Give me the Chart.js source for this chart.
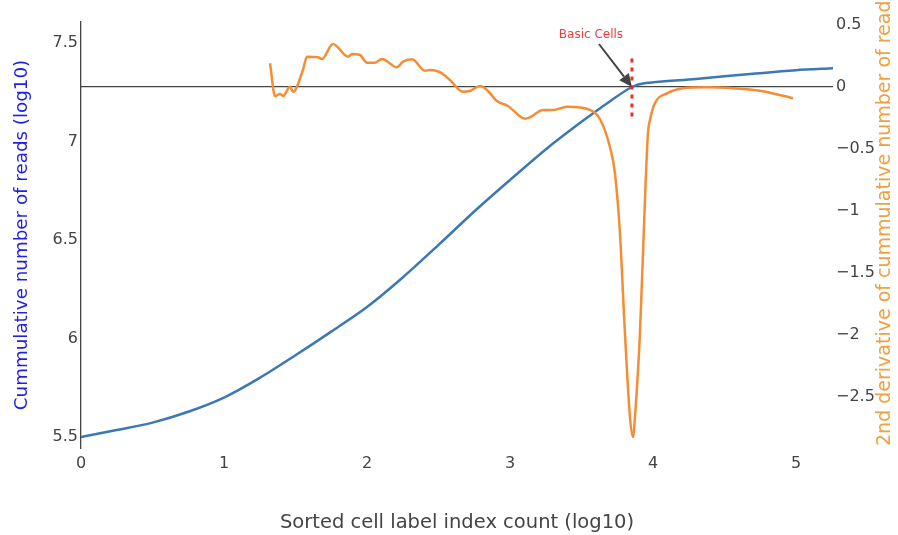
<!DOCTYPE html>
<html>
<head>
<meta charset="utf-8">
<script src="https://cdn.jsdelivr.net/npm/chart.js@4.4.1/dist/chart.umd.min.js"></script>
<style>
    html, body { margin: 0; padding: 0; background: #fff; }
</style>
</head>
<body>
<canvas id="chart" width="898" height="535"></canvas>
<script>
// Cumulative reads (log10) against sorted cell index (log10)
const cumX = [0, 0.25, 0.5, 0.75, 1.0, 1.25, 1.5, 1.75, 2.0, 2.25, 2.5, 2.75, 3.0, 3.25, 3.5, 3.7, 3.853, 3.95, 4.3, 4.7, 5.0, 5.259];
const cumY = [5.5, 5.535, 5.573, 5.628, 5.70, 5.80, 5.915, 6.035, 6.16, 6.31, 6.475, 6.645, 6.805, 6.96, 7.10, 7.205, 7.277, 7.297, 7.318, 7.344, 7.362, 7.372];

// 2nd derivative of the cumulative curve
const derivX = [1.322, 1.357, 1.392, 1.413, 1.462, 1.483, 1.552, 1.580, 1.657, 1.685, 1.762, 1.867, 1.895, 1.951, 2.000, 2.056, 2.105, 2.210, 2.252, 2.315, 2.406, 2.441, 2.510, 2.580, 2.671, 2.720, 2.790, 2.839, 2.909, 2.986, 3.105, 3.140, 3.231, 3.301, 3.399, 3.559, 3.629, 3.699, 3.734, 3.769, 3.804, 3.839, 3.860, 3.874, 3.909, 3.944, 3.965, 3.979, 4.014, 4.098, 4.210, 4.378, 4.559, 4.748, 4.979];
const derivY = [0.191, -0.073, -0.056, -0.073, 0.002, -0.038, 0.137, 0.244, 0.240, 0.226, 0.347, 0.244, 0.266, 0.258, 0.196, 0.196, 0.226, 0.159, 0.204, 0.223, 0.131, 0.137, 0.119, 0.056, -0.038, -0.032, 0.008, -0.024, -0.113, -0.153, -0.256, -0.244, -0.185, -0.185, -0.159, -0.185, -0.258, -0.484, -0.694, -1.177, -1.984, -2.661, -2.823, -2.661, -1.984, -0.911, -0.371, -0.266, -0.129, -0.051, -0.010, -0.002, -0.010, -0.030, -0.091];

// Cut-off marker
const cutoffX = 3.853;
const cutoffSpan = [0.23, -0.25];
const cutoffLabel = 'Basic Cells';

const leftRange = [5.444, 7.607];
const rightRange = [-2.911, 0.524];
const xRange = [0, 5.259];

const tickFont = { family: 'DejaVu Sans', size: 16 };

const fmtMinus = v => {
    const r = Math.round(v * 10) / 10;
    return r < 0 ? '\u2212' + Math.abs(r) : String(r);
};

const annotationPlugin = {
    id: 'basicCells',
    afterDatasetsDraw(chart) {
        const { ctx, scales } = chart;
        const px = scales.x.getPixelForValue(cutoffX);
        const py = scales.y2.getPixelForValue(0);
        const tx = px - 33, ty = py - 43;
        const ang = Math.atan2(py - ty, px - tx);
        const headLen = 13, headW = 6;

        ctx.save();
        ctx.strokeStyle = '#444';
        ctx.fillStyle = '#444';
        ctx.lineWidth = 2;
        ctx.beginPath();
        ctx.moveTo(tx, ty);
        ctx.lineTo(px - Math.cos(ang) * headLen, py - Math.sin(ang) * headLen);
        ctx.stroke();
        ctx.beginPath();
        ctx.moveTo(px, py);
        ctx.lineTo(px - Math.cos(ang) * headLen - Math.sin(ang) * headW, py - Math.sin(ang) * headLen + Math.cos(ang) * headW);
        ctx.lineTo(px - Math.cos(ang) * headLen + Math.sin(ang) * headW, py - Math.sin(ang) * headLen - Math.cos(ang) * headW);
        ctx.closePath();
        ctx.fill();

        ctx.fillStyle = '#f03c3c';
        ctx.font = '12px "DejaVu Sans"';
        ctx.textAlign = 'center';
        ctx.textBaseline = 'bottom';
        ctx.fillText(cutoffLabel, tx - 8, ty - 3);
        ctx.restore();
    },
    afterDraw(chart) {
        // right title reads bottom-to-top, like the left one
        const { ctx, chartArea } = chart;
        ctx.save();
        ctx.translate(885, chartArea.bottom - 2);
        ctx.rotate(-Math.PI / 2);
        ctx.fillStyle = '#f0a040';
        ctx.font = '19px "DejaVu Sans"';
        ctx.textAlign = 'left';
        ctx.textBaseline = 'middle';
        ctx.fillText('2nd derivative of cummulative number of reads', 0, 0);
        ctx.restore();
    }
};

new Chart(document.getElementById('chart'), {
    type: 'line',
    data: {
        datasets: [
            {
                label: 'cumulative',
                data: cumX.map((x, i) => ({ x, y: cumY[i] })),
                yAxisID: 'y',
                borderColor: '#3b78b4',
                borderWidth: 2.5,
                pointRadius: 0,
                tension: 0.3,
                order: 3
            },
            {
                label: 'derivative',
                data: derivX.map((x, i) => ({ x, y: derivY[i] })),
                yAxisID: 'y2',
                borderColor: '#f58d35',
                borderWidth: 2.5,
                pointRadius: 0,
                cubicInterpolationMode: 'monotone',
                order: 2
            },
            {
                label: 'cutoff',
                data: cutoffSpan.map(y => ({ x: cutoffX, y })),
                yAxisID: 'y2',
                borderColor: '#e8302c',
                borderWidth: 3,
                borderDash: [4, 5],
                pointRadius: 0,
                order: 1
            }
        ]
    },
    options: {
        responsive: false,
        animation: false,
        layout: { padding: { top: 22 } },
        plugins: {
            legend: { display: false },
            tooltip: { enabled: false }
        },
        scales: {
            x: {
                type: 'linear',
                min: xRange[0],
                max: xRange[1],
                grid: { display: false, drawTicks: false },
                border: { display: false },
                ticks: { stepSize: 1, includeBounds: false, color: '#444', font: tickFont, padding: 6, maxRotation: 0 },
                title: { display: true, text: 'Sorted cell label index count (log10)', color: '#444', font: { family: 'DejaVu Sans', size: 19.5 }, padding: { top: 0, bottom: 0 } },
                afterFit: s => { s.height = 87; }
            },
            y: {
                position: 'left',
                min: leftRange[0],
                max: leftRange[1],
                grid: { display: false, drawTicks: false },
                border: { display: true, color: '#444', width: 1.3 },
                ticks: { stepSize: 0.5, includeBounds: false, color: '#444', font: tickFont, padding: 3, callback: v => String(Math.round(v * 10) / 10) },
                title: { display: true, text: 'Cummulative number of reads (log10)', color: '#1f1fe6', font: { family: 'DejaVu Sans', size: 18.3 }, padding: { top: 11, bottom: 0 } },
                afterFit: s => { s.width = 81; }
            },
            y2: {
                position: 'right',
                min: rightRange[0],
                max: rightRange[1],
                grid: {
                    drawOnChartArea: true,
                    drawTicks: false,
                    lineWidth: 1.3,
                    color: c => (c.tick && Math.abs(c.tick.value) < 1e-9 ? '#444' : 'rgba(0,0,0,0)')
                },
                border: { display: false },
                ticks: { stepSize: 0.5, includeBounds: false, color: '#444', font: tickFont, padding: 3, callback: fmtMinus },
                afterFit: s => { s.width = 65; }
            }
        }
    },
    plugins: [annotationPlugin]
});
</script>
</body>
</html>
